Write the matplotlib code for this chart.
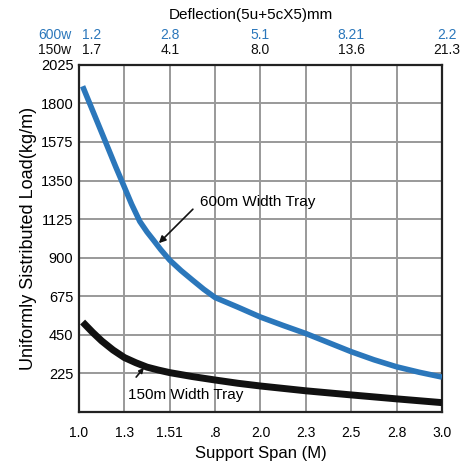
import matplotlib
matplotlib.use('Agg')
import matplotlib.pyplot as plt
import numpy as np

plt.rcParams['font.family'] = ['Liberation Sans', 'DejaVu Sans']

# x axis is categorical: span labels sit at evenly spaced slots 0..8
span_labels = ['1.0', '1.3', '1.51', '.8', '2.0', '2.3', '2.5', '2.8', '3.0']
y_ticks = [225, 450, 675, 900, 1125, 1350, 1575, 1800, 2025]

# deflection labels on top (at slots 0, 2, 4, 6, 8)
defl_600 = ['1.2', '2.8', '5.1', '8.21', '2.2']
defl_150 = ['1.7', '4.1', '8.0', '13.6', '21.3']

# curves (slot position, load kg/m)
x_600 = [0.08, 0.57, 0.81, 1.0, 1.16, 1.34, 1.5, 1.64, 1.8, 2.0, 2.25, 2.5,
         2.75, 3.0, 3.5, 4.0, 4.5, 5.0, 5.5, 6.0, 6.5, 7.0, 7.5, 8.0]
y_600 = [1900, 1585, 1430, 1312, 1212, 1112, 1050, 1003, 948, 886, 825, 770,
         716, 668, 612, 554, 505, 458, 405, 352, 305, 264, 232, 204]
x_150 = [0.08, 0.3, 0.5, 0.75, 1.0, 1.25, 1.5, 1.75, 2.0, 2.5, 3.0, 3.5,
         4.0, 5.0, 6.0, 7.0, 8.0]
y_150 = [525, 465, 415, 362, 318, 288, 262, 245, 230, 207, 187, 168,
         152, 124, 100, 77, 55]

blue = '#2b77bb'

fig = plt.figure(figsize=(4.66, 4.63), dpi=100)
ax = fig.add_axes([0.1695, 0.110, 0.779, 0.750])

ax.plot(x_600, y_600, color=blue, lw=4, solid_capstyle='butt',
        solid_joinstyle='round', zorder=3)
ax.plot(x_150, y_150, color='#111111', lw=5, solid_capstyle='butt',
        solid_joinstyle='round', zorder=3)

ax.set_xlim(0, 8)
ax.set_ylim(0, 2025)
ax.set_xticks(range(len(span_labels)))
ax.set_xticklabels(span_labels, fontsize=10)
ax.set_yticks(y_ticks)
ax.set_yticklabels([str(v) for v in y_ticks], fontsize=10.5)
ax.tick_params(axis='y', length=0, pad=4)
ax.tick_params(axis='x', length=0, pad=10)
ax.grid(True, color='#999999', lw=1.4)
ax.set_axisbelow(True)
for s in ax.spines.values():
    s.set_linewidth(1.6)
    s.set_color('#222222')

ax.set_xlabel('Support Span (M)', fontsize=12, labelpad=4)
ax.set_ylabel('Uniformly Sistributed Load(kg/m)', fontsize=13, labelpad=3)

# top deflection labels
tr = ax.get_xaxis_transform()
top_x = [0.28, 2, 4, 6, 8.1]
for xv, a, b in zip(top_x, defl_600, defl_150):
    ax.text(xv, 1.086, a, transform=tr, ha='center', va='center',
            color=blue, fontsize=10)
    ax.text(xv, 1.043, b, transform=tr, ha='center', va='center',
            color='#111111', fontsize=10)
ax.text(-0.53, 1.086, '600w', transform=tr, ha='center', va='center',
        color=blue, fontsize=10)
ax.text(-0.53, 1.043, '150w', transform=tr, ha='center', va='center',
        color='#111111', fontsize=10)
fig.text(0.539, 0.967, 'Deflection(5u+5cX5)mm', ha='center', va='center',
         fontsize=11)

ax.text(2.67, 1224, '600m Width Tray', fontsize=11, va='center', ha='left')
ax.annotate('', xy=(1.76, 985), xytext=(2.51, 1183),
            arrowprops=dict(arrowstyle='-|>', color='#111111', lw=1.2,
                            shrinkA=0, shrinkB=0, mutation_scale=10))
ax.text(1.08, 99, '150m Width Tray', fontsize=11, va='center', ha='left')
ax.annotate('', xy=(1.43, 258), xytext=(1.26, 204),
            arrowprops=dict(arrowstyle='-|>', color='#111111', lw=1.2,
                            shrinkA=0, shrinkB=0, mutation_scale=7))

fig.savefig('out.png', dpi=100)
